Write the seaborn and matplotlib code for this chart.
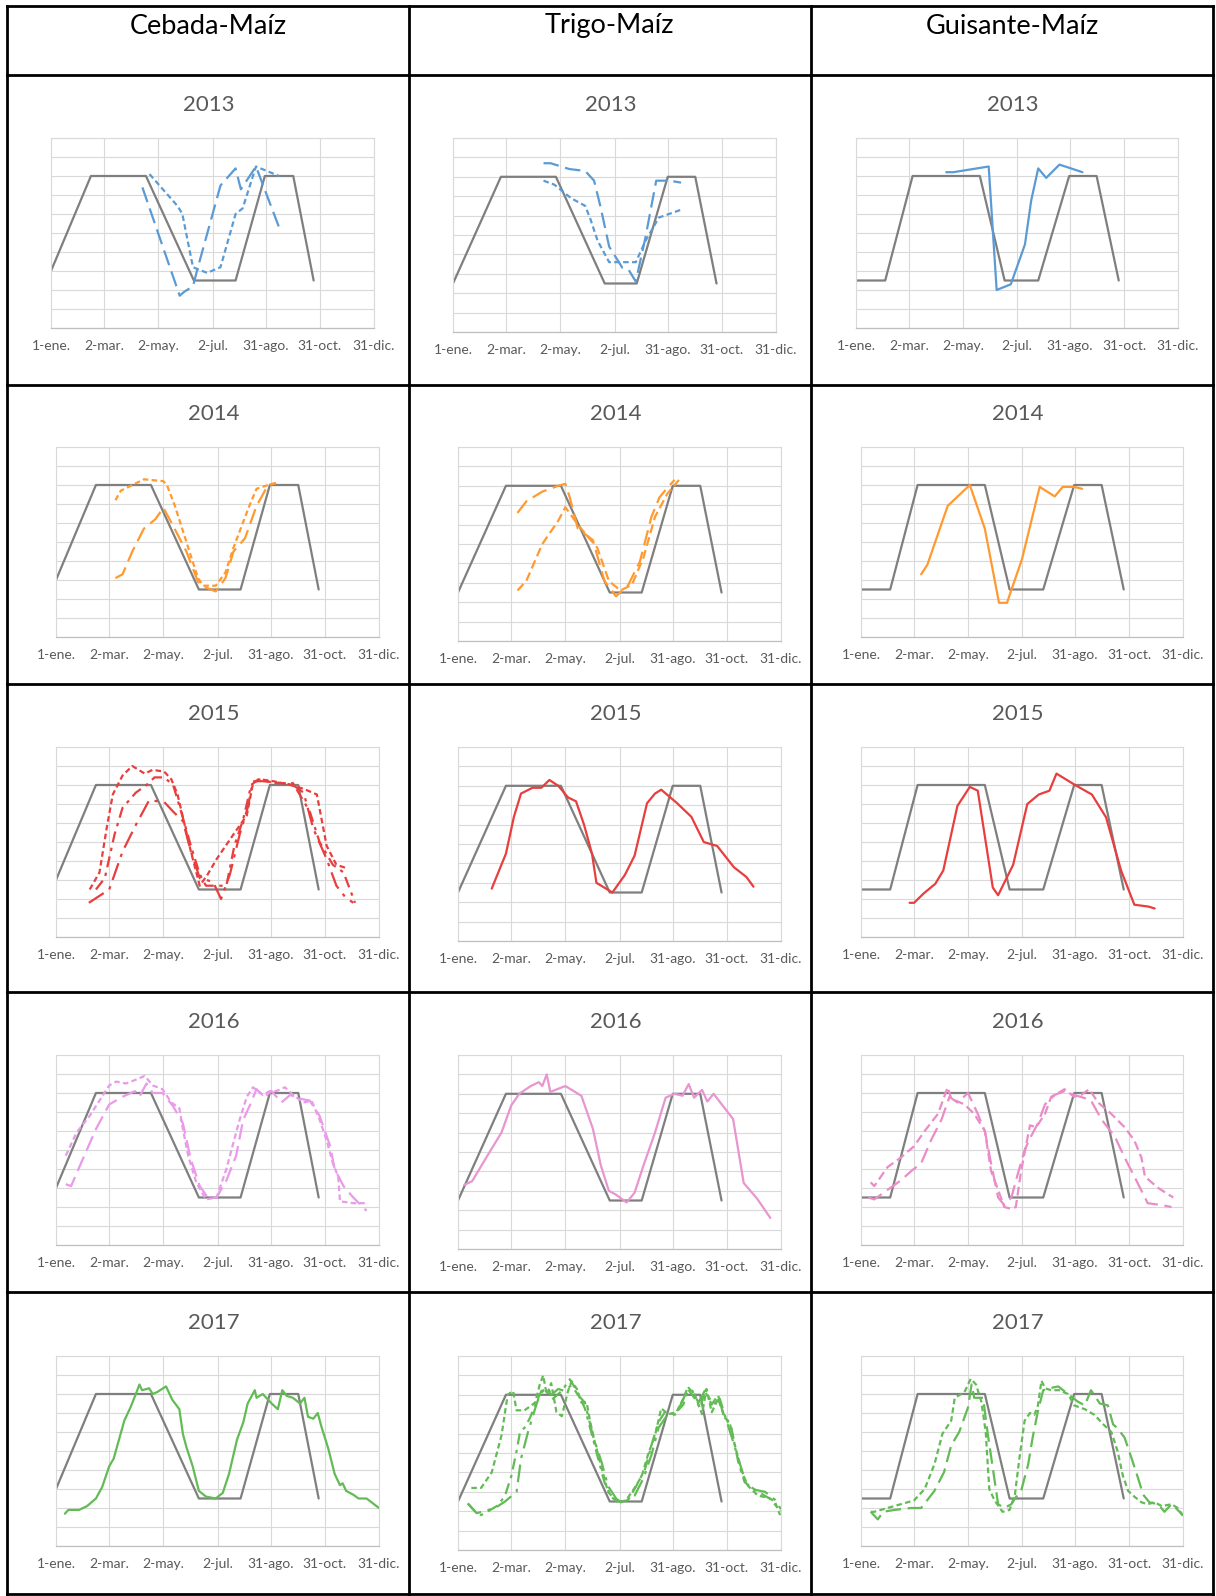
"""
Índice de vegetación frente al calendario de cultivo (rotaciones con maíz), 2013-2017.
Tabla 5x3 de gráficos pequeños.
"""
import matplotlib
matplotlib.use("Agg")
import matplotlib.pyplot as plt
import seaborn as sns
import pandas as pd

# ---------------------------------------------------------------------------
# Datos
# ---------------------------------------------------------------------------
cultivos = ['Cebada-Maíz', 'Trigo-Maíz', 'Guisante-Maíz']
anios = ['2013', '2014', '2015', '2016', '2017']
colores_anio = ['#5B9BD5', '#FF9A30', '#E83E3E', '#E99AE9', '#62BB55']

tick_dias = [0, 60, 121, 182, 242, 303, 364]
tick_etiquetas = ['1-ene.', '2-mar.', '2-may.', '2-jul.', '31-ago.', '31-oct.', '31-dic.']

# calendario de cultivo (línea gris)
cal_ceb_dia = [0, 45, 107, 161, 208, 241, 273, 296]
cal_ceb_val = [0.30, 0.80, 0.80, 0.25, 0.25, 0.80, 0.80, 0.25]
cal_tri_dia = [0, 54, 116, 171, 207, 242, 273, 297]
cal_tri_val = [0.25, 0.80, 0.80, 0.25, 0.25, 0.80, 0.80, 0.25]
cal_gui_dia = [0, 33, 64, 140, 168, 206, 241, 272, 297]
cal_gui_val = [0.25, 0.25, 0.80, 0.80, 0.25, 0.25, 0.80, 0.80, 0.25]

# 2013
ceb13_a_dia = [111, 143, 148, 160, 176, 191, 208, 216, 231, 257]
ceb13_a_val = [0.81, 0.64, 0.60, 0.32, 0.29, 0.32, 0.60, 0.63, 0.85, 0.80]
ceb13_b_dia = [103, 145, 150, 160, 165, 191, 208, 214, 231, 257]
ceb13_b_val = [0.74, 0.17, 0.19, 0.22, 0.31, 0.75, 0.84, 0.73, 0.85, 0.53]
tri13_a_dia = [102, 110, 131, 149, 159, 166, 176, 191, 198, 206, 217, 229, 244, 257]
tri13_a_val = [0.87, 0.87, 0.84, 0.83, 0.78, 0.65, 0.44, 0.33, 0.32, 0.26, 0.49, 0.78, 0.78, 0.77]
tri13_b_dia = [102, 114, 133, 149, 155, 163, 176, 206, 217, 232, 257]
tri13_b_val = [0.78, 0.76, 0.69, 0.65, 0.58, 0.47, 0.36, 0.36, 0.47, 0.59, 0.63]
gui13_a_dia = [102, 110, 150, 159, 175, 191, 198, 206, 215, 230, 256]
gui13_a_val = [0.82, 0.82, 0.85, 0.20, 0.23, 0.44, 0.67, 0.84, 0.79, 0.86, 0.82]

# 2014
ceb14_a_dia = [67, 73, 86, 99, 121, 125, 134, 147, 160, 166, 180, 191, 200, 217, 226, 239, 248]
ceb14_a_val = [0.72, 0.77, 0.80, 0.83, 0.82, 0.80, 0.69, 0.50, 0.31, 0.27, 0.27, 0.34, 0.47, 0.68, 0.78, 0.80, 0.81]
ceb14_b_dia = [67, 75, 86, 99, 112, 121, 128, 147, 160, 169, 180, 191, 200, 213, 226, 239, 248]
ceb14_b_val = [0.31, 0.33, 0.45, 0.57, 0.62, 0.68, 0.62, 0.45, 0.29, 0.26, 0.24, 0.31, 0.45, 0.52, 0.69, 0.80, 0.81]
tri14_a_dia = [67, 77, 95, 113, 121, 126, 135, 152, 165, 178, 192, 205, 218, 227, 236, 244]
tri14_a_val = [0.66, 0.72, 0.77, 0.80, 0.81, 0.74, 0.58, 0.52, 0.31, 0.23, 0.29, 0.41, 0.64, 0.74, 0.79, 0.83]
tri14_b_dia = [67, 77, 95, 113, 121, 135, 157, 170, 183, 196, 209, 222, 236, 249]
tri14_b_val = [0.26, 0.31, 0.50, 0.62, 0.69, 0.60, 0.48, 0.31, 0.26, 0.29, 0.43, 0.64, 0.76, 0.83]
gui14_a_dia = [68, 75, 98, 123, 140, 156, 165, 182, 202, 219, 228, 241, 250]
gui14_a_val = [0.33, 0.38, 0.69, 0.80, 0.57, 0.18, 0.18, 0.41, 0.79, 0.74, 0.79, 0.79, 0.78]

# 2015
ceb15_a_dia = [38, 49, 57, 64, 75, 86, 100, 109, 122, 130, 137, 145, 152, 162, 171, 181, 200, 215,
               222, 230, 245, 264, 279, 294, 305, 316, 329]
ceb15_a_val = [0.25, 0.34, 0.57, 0.75, 0.85, 0.90, 0.86, 0.88, 0.87, 0.83, 0.75, 0.59, 0.45, 0.27,
               0.33, 0.41, 0.54, 0.64, 0.81, 0.83, 0.82, 0.80, 0.78, 0.75, 0.48, 0.38, 0.36]
ceb15_b_dia = [45, 55, 66, 75, 90, 102, 111, 122, 132, 141, 152, 162, 169, 181, 192, 201, 211, 220,
               228, 248, 267, 286, 297, 312, 324, 337]
ceb15_b_val = [0.25, 0.31, 0.54, 0.68, 0.76, 0.80, 0.84, 0.84, 0.80, 0.66, 0.48, 0.33, 0.27, 0.27,
               0.27, 0.48, 0.62, 0.80, 0.83, 0.81, 0.81, 0.66, 0.50, 0.38, 0.34, 0.18]
ceb15_c_dia = [37, 60, 75, 90, 105, 122, 132, 143, 152, 162, 177, 186, 196, 207, 216, 222, 233, 256,
               267, 279, 290, 305, 316, 326, 335]
ceb15_c_val = [0.18, 0.25, 0.45, 0.59, 0.72, 0.71, 0.66, 0.61, 0.45, 0.31, 0.29, 0.20, 0.33, 0.54,
               0.68, 0.82, 0.82, 0.81, 0.80, 0.76, 0.57, 0.41, 0.27, 0.21, 0.18]
tri15_a_dia = [38, 54, 63, 71, 84, 94, 103, 113, 124, 133, 142, 151, 156, 174, 188, 199, 213, 222,
               229, 247, 263, 277, 292, 311, 325, 333]
tri15_a_val = [0.27, 0.45, 0.64, 0.76, 0.79, 0.79, 0.83, 0.80, 0.74, 0.72, 0.60, 0.45, 0.30, 0.25,
               0.34, 0.44, 0.71, 0.76, 0.78, 0.71, 0.64, 0.51, 0.49, 0.38, 0.33, 0.28]
gui15_a_dia = [55, 60, 71, 84, 93, 109, 123, 132, 149, 155, 172, 188, 201, 213, 221, 242, 261, 277,
               294, 309, 325, 332]
gui15_a_val = [0.18, 0.18, 0.23, 0.28, 0.35, 0.69, 0.79, 0.77, 0.26, 0.22, 0.38, 0.70, 0.75, 0.77,
               0.86, 0.80, 0.75, 0.63, 0.35, 0.17, 0.16, 0.15]

# 2016
ceb16_a_dia = [11, 23, 38, 49, 60, 68, 79, 90, 100, 109, 120, 130, 139, 143, 149, 158, 169, 181,
               192, 200, 207, 215, 222, 233, 241, 248, 258, 267, 279, 288, 297, 305, 312, 318,
               320, 335, 348]
ceb16_a_val = [0.47, 0.59, 0.68, 0.76, 0.84, 0.86, 0.85, 0.87, 0.89, 0.84, 0.82, 0.75, 0.72, 0.61,
               0.47, 0.33, 0.24, 0.25, 0.40, 0.54, 0.66, 0.78, 0.83, 0.79, 0.81, 0.81, 0.83, 0.79,
               0.75, 0.76, 0.66, 0.55, 0.43, 0.36, 0.23, 0.22, 0.22]
ceb16_b_dia = [11, 17, 30, 45, 60, 75, 89, 94, 102, 109, 120, 132, 143, 152, 162, 171, 181, 192,
               203, 211, 218, 226, 235, 243, 254, 264, 275, 286, 297, 309, 314, 324, 335, 350]
ceb16_b_val = [0.32, 0.31, 0.45, 0.61, 0.74, 0.78, 0.81, 0.78, 0.85, 0.80, 0.80, 0.73, 0.64, 0.45,
               0.31, 0.25, 0.25, 0.34, 0.47, 0.66, 0.73, 0.82, 0.78, 0.81, 0.75, 0.79, 0.77, 0.76,
               0.68, 0.52, 0.40, 0.31, 0.25, 0.18]
tri16_a_dia = [7, 16, 33, 49, 60, 69, 82, 91, 95, 100, 104, 121, 139, 152, 161, 170, 178, 190, 199,
               209, 222, 234, 244, 253, 260, 266, 275, 281, 288, 310, 322, 337, 352]
tri16_a_val = [0.33, 0.35, 0.48, 0.60, 0.74, 0.80, 0.84, 0.86, 0.84, 0.90, 0.81, 0.84, 0.79, 0.62,
               0.43, 0.30, 0.28, 0.24, 0.29, 0.43, 0.60, 0.78, 0.80, 0.79, 0.85, 0.78, 0.82, 0.76,
               0.80, 0.67, 0.34, 0.26, 0.16]
gui16_a_dia = [11, 15, 30, 45, 60, 72, 87, 98, 102, 117, 128, 140, 147, 155, 162, 170, 175, 181,
               191, 198, 208, 215, 223, 230, 241, 249, 258, 268, 283, 298, 309, 317, 321, 336, 353]
gui16_a_val = [0.33, 0.31, 0.41, 0.46, 0.52, 0.60, 0.69, 0.83, 0.77, 0.74, 0.69, 0.60, 0.39, 0.29,
               0.20, 0.19, 0.20, 0.39, 0.63, 0.62, 0.69, 0.78, 0.80, 0.82, 0.78, 0.79, 0.82, 0.75,
               0.69, 0.62, 0.55, 0.46, 0.36, 0.30, 0.25]
gui16_b_dia = [8, 15, 30, 45, 57, 68, 79, 91, 100, 109, 121, 132, 140, 147, 155, 162, 170, 177,
               185, 192, 200, 208, 219, 230, 241, 255, 260, 272, 287, 298, 309, 321, 324, 340, 351]
gui16_b_val = [0.25, 0.24, 0.29, 0.34, 0.39, 0.43, 0.55, 0.66, 0.78, 0.75, 0.80, 0.69, 0.60, 0.43,
               0.25, 0.21, 0.25, 0.37, 0.50, 0.57, 0.64, 0.74, 0.79, 0.81, 0.79, 0.77, 0.76, 0.66,
               0.57, 0.46, 0.36, 0.25, 0.22, 0.21, 0.20]

# 2017
ceb17_a_dia = [10, 14, 26, 35, 45, 52, 60, 65, 71, 77, 84, 90, 94, 97, 105, 109, 114, 124, 131,
               139, 143, 147, 154, 161, 169, 180, 188, 195, 204, 211, 216, 224, 226, 233, 243,
               250, 255, 260, 267, 275, 280, 284, 290, 295, 299, 307, 314, 320, 323, 327, 335,
               341, 350, 364]
ceb17_a_val = [0.17, 0.19, 0.19, 0.21, 0.25, 0.31, 0.42, 0.46, 0.56, 0.66, 0.73, 0.80, 0.85, 0.82,
               0.83, 0.80, 0.81, 0.84, 0.77, 0.72, 0.59, 0.52, 0.42, 0.29, 0.26, 0.25, 0.28, 0.38,
               0.56, 0.65, 0.75, 0.82, 0.78, 0.80, 0.75, 0.72, 0.82, 0.79, 0.78, 0.75, 0.78, 0.68,
               0.67, 0.70, 0.63, 0.51, 0.38, 0.32, 0.33, 0.29, 0.27, 0.25, 0.25, 0.20]
tri17_a_dia = [15, 26, 38, 49, 56, 62, 66, 75, 87, 92, 96, 100, 105, 111, 117, 124, 128, 134, 139,
               145, 149, 154, 162, 169, 181, 190, 199, 207, 214, 222, 229, 237, 246, 254, 259,
               267, 275, 280, 286, 293, 301, 306, 312, 320, 327, 338, 350, 357, 363]
tri17_a_val = [0.32, 0.32, 0.40, 0.59, 0.80, 0.82, 0.72, 0.72, 0.76, 0.85, 0.90, 0.80, 0.86, 0.71,
               0.69, 0.82, 0.87, 0.83, 0.76, 0.76, 0.66, 0.56, 0.42, 0.30, 0.24, 0.26, 0.32, 0.38,
               0.49, 0.59, 0.73, 0.70, 0.71, 0.78, 0.84, 0.80, 0.70, 0.83, 0.71, 0.78, 0.68, 0.66,
               0.54, 0.40, 0.33, 0.28, 0.27, 0.25, 0.18]
tri17_b_dia = [11, 19, 26, 34, 45, 53, 60, 66, 70, 75, 81, 88, 94, 102, 107, 117, 126, 134, 143,
               150, 158, 165, 173, 182, 192, 201, 211, 218, 226, 233, 244, 254, 259, 267, 273,
               278, 286, 293, 299, 308, 316, 323, 331, 342, 353, 363]
tri17_b_val = [0.24, 0.20, 0.18, 0.20, 0.23, 0.28, 0.38, 0.51, 0.61, 0.63, 0.68, 0.76, 0.82, 0.83,
               0.78, 0.82, 0.88, 0.82, 0.73, 0.61, 0.47, 0.35, 0.27, 0.25, 0.26, 0.33, 0.42, 0.54,
               0.66, 0.71, 0.70, 0.75, 0.83, 0.78, 0.73, 0.82, 0.75, 0.80, 0.70, 0.63, 0.45, 0.35,
               0.32, 0.29, 0.26, 0.20]
tri17_c_dia = [11, 21, 30, 43, 53, 66, 71, 79, 87, 92, 98, 105, 113, 120, 128, 135, 143, 152, 162,
               169, 179, 188, 199, 209, 218, 226, 235, 246, 256, 263, 271, 278, 288, 295, 303,
               310, 318, 325, 335, 346, 357, 364]
tri17_c_val = [0.24, 0.19, 0.20, 0.22, 0.25, 0.30, 0.47, 0.61, 0.73, 0.80, 0.83, 0.80, 0.83, 0.82,
               0.85, 0.80, 0.76, 0.59, 0.45, 0.33, 0.26, 0.25, 0.28, 0.37, 0.49, 0.63, 0.69, 0.70,
               0.80, 0.83, 0.76, 0.82, 0.75, 0.78, 0.66, 0.56, 0.44, 0.34, 0.31, 0.30, 0.26, 0.21]
gui17_a_dia = [11, 15, 30, 45, 60, 72, 83, 92, 102, 106, 117, 124, 130, 136, 141, 145, 151, 160,
               168, 174, 179, 185, 191, 196, 200, 204, 208, 215, 224, 234, 241, 253, 264, 274,
               283, 290, 296, 302, 309, 317, 324, 332, 340, 351, 358, 364]
gui17_a_val = [0.18, 0.18, 0.20, 0.22, 0.24, 0.30, 0.43, 0.59, 0.66, 0.78, 0.81, 0.88, 0.85, 0.76,
               0.60, 0.30, 0.24, 0.18, 0.19, 0.27, 0.46, 0.66, 0.70, 0.69, 0.74, 0.87, 0.83, 0.82,
               0.82, 0.80, 0.74, 0.72, 0.69, 0.64, 0.60, 0.50, 0.37, 0.29, 0.26, 0.23, 0.22, 0.23,
               0.21, 0.22, 0.20, 0.16]
gui17_b_dia = [11, 19, 25, 38, 57, 68, 83, 94, 102, 111, 121, 125, 128, 138, 143, 149, 155, 162,
               170, 174, 181, 189, 194, 200, 206, 213, 223, 234, 245, 253, 260, 270, 279, 285,
               290, 298, 306, 313, 319, 326, 336, 343, 351, 358, 364]
gui17_b_val = [0.18, 0.14, 0.18, 0.19, 0.20, 0.20, 0.29, 0.39, 0.53, 0.60, 0.73, 0.85, 0.78, 0.78,
               0.60, 0.41, 0.22, 0.20, 0.22, 0.25, 0.29, 0.43, 0.57, 0.71, 0.82, 0.83, 0.84, 0.80,
               0.76, 0.74, 0.82, 0.75, 0.74, 0.64, 0.62, 0.57, 0.46, 0.36, 0.27, 0.23, 0.22, 0.18,
               0.22, 0.19, 0.16]

# ---------------------------------------------------------------------------
# Estilos de línea (tipo Excel)
# ---------------------------------------------------------------------------
estilos = {
    'continua': '-',
    'corta': (0, (2.5, 1.5)),
    'media': (0, (4, 2)),
    'larga': (0, (7, 3)),
    'raya_punto': (0, (5, 2.5, 1.5, 2.5)),
    'larga_punto': (0, (8, 3, 1.5, 3)),
}

# (fila, columna) -> series del índice
series = {
    (0, 0): [(ceb13_a_dia, ceb13_a_val, 'corta'), (ceb13_b_dia, ceb13_b_val, 'larga')],
    (0, 1): [(tri13_a_dia, tri13_a_val, 'larga'), (tri13_b_dia, tri13_b_val, 'corta')],
    (0, 2): [(gui13_a_dia, gui13_a_val, 'continua')],
    (1, 0): [(ceb14_a_dia, ceb14_a_val, 'corta'), (ceb14_b_dia, ceb14_b_val, 'larga')],
    (1, 1): [(tri14_a_dia, tri14_a_val, 'larga'), (tri14_b_dia, tri14_b_val, 'media')],
    (1, 2): [(gui14_a_dia, gui14_a_val, 'continua')],
    (2, 0): [(ceb15_a_dia, ceb15_a_val, 'corta'), (ceb15_b_dia, ceb15_b_val, 'raya_punto'),
             (ceb15_c_dia, ceb15_c_val, 'larga_punto')],
    (2, 1): [(tri15_a_dia, tri15_a_val, 'continua')],
    (2, 2): [(gui15_a_dia, gui15_a_val, 'continua')],
    (3, 0): [(ceb16_a_dia, ceb16_a_val, 'corta'), (ceb16_b_dia, ceb16_b_val, 'larga')],
    (3, 1): [(tri16_a_dia, tri16_a_val, 'continua')],
    (3, 2): [(gui16_a_dia, gui16_a_val, 'media'), (gui16_b_dia, gui16_b_val, 'larga')],
    (4, 0): [(ceb17_a_dia, ceb17_a_val, 'continua')],
    (4, 1): [(tri17_a_dia, tri17_a_val, 'corta'), (tri17_b_dia, tri17_b_val, 'raya_punto'),
             (tri17_c_dia, tri17_c_val, 'larga_punto')],
    (4, 2): [(gui17_a_dia, gui17_a_val, 'corta'), (gui17_b_dia, gui17_b_val, 'larga')],
}
calendarios = [(cal_ceb_dia, cal_ceb_val), (cal_tri_dia, cal_tri_val), (cal_gui_dia, cal_gui_val)]
rosas = ['#E99AE9', '#E895D0', '#EA8CC8']  # 2016 cambia un poco de tono por columna

# ---------------------------------------------------------------------------
# Figura
# ---------------------------------------------------------------------------
sns.set_style("white")
plt.rcParams['font.family'] = ['Lato', 'DejaVu Sans']

W, H = 1216, 1596
fig = plt.figure(figsize=(W / 100, H / 100), dpi=100)

# bordes de la tabla (en píxeles)
fondo = fig.add_axes([0, 0, 1, 1])
fondo.set_xlim(0, W)
fondo.set_ylim(H, 0)
fondo.axis('off')
for x in [7, 409, 811, 1213]:
    fondo.plot([x, x], [6, 1594], color='black', lw=2.0, solid_capstyle='projecting')
for y in [6, 75, 385, 684, 992, 1292, 1594]:
    fondo.plot([7, 1213], [y, y], color='black', lw=2.0, solid_capstyle='projecting')

centros_cab = [208, 609, 1012]
for c, nombre in enumerate(cultivos):
    fig.text(centros_cab[c] / W, 1 - 26 / H, nombre, ha='center', va='center',
             fontsize=19.5, color='black')

col_izq = [56, 458, 861]
col_der = [379, 781, 1183]
fila_sup = [138, 447, 747, 1055, 1356]

for r, anio in enumerate(anios):
    for c in range(3):
        desp = -5 if r == 0 else 0
        izq = col_izq[c] + desp
        der = col_der[c] + desp
        sup = fila_sup[r]
        alto = 194 if c == 1 else 190
        ax = fig.add_axes([izq / W, 1 - (sup + alto) / H, (der - izq) / W, alto / H])

        # calendario de cultivo
        cal_d, cal_v = calendarios[c]
        sns.lineplot(x=cal_d, y=cal_v, ax=ax, color='#7F7F7F', linewidth=1.6,
                     sort=False, estimator=None, errorbar=None)

        color = rosas[c] if r == 3 else colores_anio[r]
        for dias, vals, estilo in series[(r, c)]:
            sns.lineplot(x=dias, y=vals, ax=ax, color=color, linewidth=1.6,
                         linestyle=estilos[estilo], sort=False, estimator=None, errorbar=None)

        ax.set_xlim(0, 364)
        ax.set_ylim(0, 1)
        ax.set_yticks([i / 10 for i in range(11)])
        ax.set_yticklabels([])
        ax.set_xticks(tick_dias)
        ax.set_xticklabels(tick_etiquetas, fontsize=10, color='#595959')
        ax.tick_params(axis='both', length=0)
        ax.tick_params(axis='x', pad=8.5)
        ax.grid(True, color='#D9D9D9', linewidth=0.8)
        ax.set_axisbelow(True)
        ax.set_xlabel('')
        ax.set_ylabel('')
        for lado in ['top', 'right', 'left']:
            ax.spines[lado].set_color('#D9D9D9')
            ax.spines[lado].set_linewidth(0.8)
        ax.spines['bottom'].set_color('#BFBFBF')
        ax.spines['bottom'].set_linewidth(0.9)

        cx = (izq + der) / 2 - 4
        fig.text(cx / W, 1 - (sup - 33) / H, anio, ha='center', va='center',
                 fontsize=16, color='#595959')

fig.savefig('out.png', dpi=100)
